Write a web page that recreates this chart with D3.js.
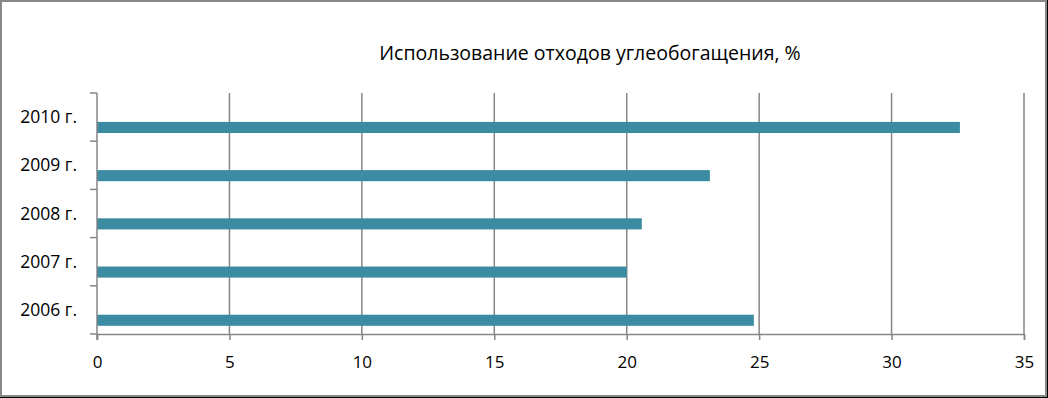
<!DOCTYPE html>
<html>
<head>
<meta charset="utf-8">
<script src="https://cdn.jsdelivr.net/npm/d3@7"></script>
<style>
  body { margin: 0; background: #000; }
  svg { display: block; }
  text { font-family: "Open Sans", "Noto Sans", sans-serif; fill: #000; }
</style>
</head>
<body>
<div id="chart"></div>
<script>
var categories = ["2010 г.", "2009 г.", "2008 г.", "2007 г.", "2006 г."];
var values = [32.58, 23.14, 20.57, 20.0, 24.8];
var xTicks = [0, 5, 10, 15, 20, 25, 30, 35];
var title = "Использование отходов углеобогащения, %";

var width = 1048, height = 398;
var margin = { top: 93, right: 24, bottom: 64, left: 97 };
var barColor = "#3b8ba2";
var gridColor = "#868686";

var svg = d3.select("#chart").append("svg")
    .attr("width", width)
    .attr("height", height);

// frame
svg.append("rect")
    .attr("x", 1).attr("y", 1)
    .attr("width", 1045).attr("height", 395)
    .attr("fill", "#fff")
    .attr("stroke", "#888")
    .attr("stroke-width", 2);

svg.append("text")
    .attr("x", 590).attr("y", 60)
    .attr("text-anchor", "middle")
    .style("font-size", "19.5px")
    .text(title);

var x = d3.scaleLinear()
    .domain([0, 35])
    .range([margin.left, width - margin.right]);

var y = d3.scaleBand()
    .domain(categories)
    .range([margin.top, height - margin.bottom]);

var g = svg.append("g");

// vertical gridlines
g.selectAll(".grid")
    .data(xTicks.slice(1))
    .enter()
    .append("line")
    .attr("x1", d => x(d)).attr("x2", d => x(d))
    .attr("y1", margin.top).attr("y2", height - margin.bottom)
    .attr("stroke", gridColor)
    .attr("stroke-width", 1.5);

// bars
g.selectAll(".bar")
    .data(values)
    .enter()
    .append("rect")
    .attr("class", "bar")
    .attr("x", x(0))
    .attr("y", (d, i) => y(categories[i]) + y.bandwidth() * 0.6)
    .attr("width", d => x(d) - x(0))
    .attr("height", y.bandwidth() * 0.23)
    .attr("fill", barColor);

// x axis
var xAxis = d3.axisBottom(x)
    .tickValues(xTicks)
    .tickSize(6)
    .tickPadding(16)
    .tickFormat(d3.format("d"));

var xg = svg.append("g")
    .attr("transform", `translate(0, ${height - margin.bottom})`)
    .call(xAxis);
xg.select(".domain").attr("stroke", gridColor).attr("stroke-width", 1.5);
xg.selectAll(".tick line").attr("stroke", gridColor).attr("stroke-width", 1.5);
xg.selectAll("text").style("font-size", "17px").attr("fill", "#000");

// y axis: ticks at band boundaries
var yg = svg.append("g");
var bounds = categories.map(c => y(c)).concat([y.range()[1]]);
yg.append("line")
    .attr("x1", x(0)).attr("x2", x(0))
    .attr("y1", margin.top).attr("y2", height - margin.bottom + 6)
    .attr("stroke", gridColor)
    .attr("stroke-width", 1.5);
yg.selectAll(".ytick")
    .data(bounds)
    .enter()
    .append("line")
    .attr("x1", x(0) - 7).attr("x2", x(0))
    .attr("y1", d => d).attr("y2", d => d)
    .attr("stroke", gridColor)
    .attr("stroke-width", 1.5);
yg.selectAll(".ylabel")
    .data(categories)
    .enter()
    .append("text")
    .attr("x", 77)
    .attr("y", d => y(d) + y.bandwidth() / 2)
    .attr("dy", "0.35em")
    .attr("text-anchor", "end")
    .style("font-size", "17.5px")
    .text(d => d);
</script>
</body>
</html>
